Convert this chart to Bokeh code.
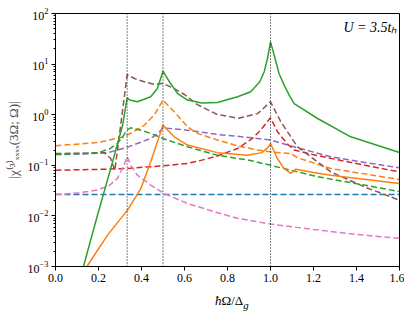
from bokeh.plotting import figure
from bokeh.models import Span, Label, FixedTicker, PrintfTickFormatter, LogTicker, Div
from bokeh.layouts import column
from bokeh.embed import file_html
from bokeh.resources import INLINE

# ---------------- data ----------------
x_ticks = [0.0, 0.2, 0.4, 0.6, 0.8, 1.0, 1.2, 1.4, 1.6]
resonances = [1 / 3, 0.5, 1.0]

blue_x = [0.0, 0.4, 0.8, 1.2, 1.6]
blue_y = [0.0265, 0.0265, 0.0265, 0.0265, 0.0265]

pink_x = [0.0, 0.1, 0.195, 0.25, 0.288, 0.318, 0.3333, 0.35, 0.381, 0.443, 0.505,
          0.614, 0.75, 0.85, 1.0, 1.2, 1.4, 1.6]
pink_y = [0.0265, 0.0282, 0.0324, 0.0398, 0.055, 0.1, 0.148, 0.1, 0.0637, 0.0407,
          0.0277, 0.0176, 0.0117, 0.0089, 0.0069, 0.0054, 0.0043, 0.0036]

red_x = [0.0, 0.2, 0.333, 0.5, 0.614, 0.66, 0.75, 0.847, 0.916, 0.955, 1.0, 1.033,
         1.079, 1.11, 1.2, 1.3, 1.44, 1.6]
red_y = [0.08, 0.083, 0.0865, 0.0977, 0.109, 0.12, 0.151, 0.215, 0.339, 0.5, 0.87,
         0.457, 0.263, 0.2, 0.162, 0.132, 0.1, 0.074]

purple_x = [0.0, 0.1, 0.242, 0.34, 0.443, 0.475, 0.5, 0.614, 0.753, 0.9, 1.0, 1.126,
            1.28, 1.405, 1.6]
purple_y = [0.163, 0.166, 0.177, 0.232, 0.339, 0.417, 0.55, 0.494, 0.407, 0.355,
            0.316, 0.221, 0.148, 0.12, 0.089]

greend_x = [0.0, 0.195, 0.25, 0.288, 0.315, 0.333, 0.35, 0.4, 0.443, 0.5, 0.614,
            0.753, 0.9, 1.0, 1.22, 1.436, 1.6]
greend_y = [0.163, 0.177, 0.209, 0.269, 0.38, 0.5, 0.55, 0.49, 0.427, 0.339, 0.232,
            0.158, 0.126, 0.1, 0.0593, 0.0407, 0.0302]

oranged_x = [0.0, 0.195, 0.32, 0.413, 0.46, 0.5, 0.567, 0.614, 0.66, 0.753, 0.85,
             0.94, 1.0, 1.094, 1.126, 1.28, 1.6]
oranged_y = [0.243, 0.282, 0.366, 0.617, 1.0, 1.94, 0.977, 0.575, 0.427, 0.316, 0.24,
             0.2, 0.185, 0.171, 0.141, 0.0865, 0.0525]

brown_x = [0.0, 0.15, 0.226, 0.257, 0.276, 0.3333, 0.37, 0.413, 0.46, 0.5, 0.55, 0.6,
           0.66, 0.75, 0.85, 0.94, 1.0, 1.048, 1.11, 1.126, 1.28, 1.436, 1.6]
brown_y = [0.171, 0.174, 0.178, 0.136, 0.0794, 6.17, 5.13, 4.47, 3.98, 4.14, 3.31,
           2.51, 1.58, 1.02, 0.851, 1.05, 1.8, 0.724, 0.291, 0.232, 0.0741, 0.0376,
           0.0204]

oranges_x = [0.146, 0.242, 0.335, 0.397, 0.443, 0.474, 0.5, 0.552, 0.614, 0.753,
             0.893, 0.96, 0.99, 1.0, 1.03, 1.06, 1.094, 1.118, 1.2, 1.28, 1.6]
oranges_y = [0.001, 0.00417, 0.013, 0.0347, 0.117, 0.291, 0.617, 0.366, 0.251, 0.178,
             0.158, 0.178, 0.229, 0.269, 0.141, 0.0891, 0.0692, 0.0838, 0.0724,
             0.0638, 0.0437]

greens_x = [0.13, 0.195, 0.257, 0.312, 0.3333, 0.345, 0.381, 0.443, 0.474, 0.482,
            0.5, 0.53, 0.567, 0.614, 0.68, 0.753, 0.847, 0.908, 0.95, 0.971, 0.986,
            1.0, 1.017, 1.04, 1.064, 1.087, 1.11, 1.219, 1.373, 1.6]
greens_y = [0.001, 0.0102, 0.0871, 0.617, 2.16, 1.95, 1.8, 2.26, 3.3, 4.17,
            7.24, 4.47, 2.63, 1.95, 1.7, 1.74, 2.26, 2.84, 4.47, 7.08, 12.9,
            27.5, 15.1, 6.46, 3.8, 2.43, 1.66, 0.841, 0.366, 0.179]

# ---------------- figure ----------------
SERIF = "Liberation Serif"
p = figure(width=404, height=288, y_axis_type="log",
           x_range=(0.0, 1.6), y_range=(1e-3, 1e2),
           output_backend="svg", toolbar_location=None,
           min_border_left=55, min_border_right=5,
           min_border_top=13, min_border_bottom=22)
p.grid.visible = False
p.outline_line_color = "black"
p.outline_line_width = 1
p.background_fill_color = "white"

p.xaxis.ticker = FixedTicker(ticks=x_ticks)
p.xaxis.formatter = PrintfTickFormatter(format="%.1f")
p.yaxis.ticker = LogTicker(num_minor_ticks=10)
for ax in (p.xaxis, p.yaxis):
    ax.axis_line_color = "black"
    ax.major_tick_line_color = "black"
    ax.minor_tick_line_color = "black"
    ax.major_tick_out = 4
    ax.major_tick_in = 0
    ax.minor_tick_out = 2
    ax.minor_tick_in = 0
    ax.major_label_text_font = SERIF
    ax.major_label_text_font_size = "12px"
    ax.major_label_text_color = "black"
    ax.major_label_standoff = 3
p.xaxis.minor_tick_line_color = None

p.yaxis.axis_label = "|χ⁽³⁾ₓₓₓₓ(3Ω; Ω)|"
p.yaxis.axis_label_text_font = SERIF
p.yaxis.axis_label_text_font_style = "normal"
p.yaxis.axis_label_text_font_size = "13px"
p.yaxis.axis_label_standoff = 4

for xr in resonances:
    p.add_layout(Span(location=xr, dimension="height", line_color="black",
                      line_width=1, line_dash="1 2"))

C_BLUE, C_ORANGE, C_GREEN = "#1f77b4", "#ff7f0e", "#2ca02c"
C_RED, C_PURPLE, C_BROWN, C_PINK = "#d62728", "#9467bd", "#8c564b", "#e377c2"
DASH = "6 3"
LW = 1.5

p.line(blue_x, blue_y, line_color=C_BLUE, line_width=LW, line_dash=DASH)
p.line(purple_x, purple_y, line_color=C_PURPLE, line_width=LW, line_dash=DASH)
p.line(oranged_x, oranged_y, line_color=C_ORANGE, line_width=LW, line_dash=DASH)
p.line(red_x, red_y, line_color=C_RED, line_width=LW, line_dash=DASH)
p.line(brown_x, brown_y, line_color=C_BROWN, line_width=LW, line_dash=DASH)
p.line(greend_x, greend_y, line_color=C_GREEN, line_width=LW, line_dash=DASH)
p.line(pink_x, pink_y, line_color=C_PINK, line_width=LW, line_dash=DASH)
p.line(oranges_x, oranges_y, line_color=C_ORANGE, line_width=LW)
p.line(greens_x, greens_y, line_color=C_GREEN, line_width=LW)

p.add_layout(Label(x=1.59, y=1e2, y_offset=-14, text="U = 3.5tₕ",
                   text_font=SERIF, text_font_style="italic",
                   text_font_size="14px", text_align="right",
                   text_baseline="alphabetic", text_color="black"))

# x-axis label (with a real subscript) as HTML text just below the plot
xlabel = Div(text="<i>ħ</i>Ω/Δ<sub><i>g</i></sub>", width=404, height=20,
             styles={"font-family": SERIF, "font-size": "13px",
                     "padding-left": "210px", "line-height": "15px",
                     "color": "black"})

open("out.html", "w").write(file_html(column(p, xlabel), INLINE))
